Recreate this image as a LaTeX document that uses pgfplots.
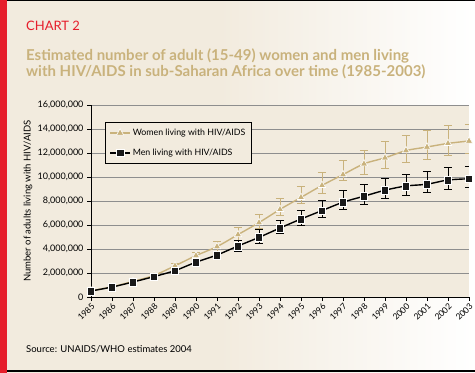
\documentclass[border=0pt]{standalone}
\usepackage{pgfplots}
\pgfplotsset{compat=1.18}
\usepackage{pgfplotstable}
\usepackage{fontspec}
\setmainfont{Lato}
\definecolor{bg}{HTML}{F2EBDE}
\definecolor{tanc}{HTML}{C9B27C}
\definecolor{chartred}{HTML}{E61E2B}
\definecolor{gridgray}{HTML}{8E8E8E}

\pgfplotstableread{
year y ep em
1985 520000 50000 50000
1986 850000 80000 80000
1987 1300000 120000 120000
1988 1800000 150000 150000
1989 2600000 200000 200000
1990 3450000 250000 250000
1991 4200000 400000 400000
1992 5200000 600000 450000
1993 6200000 700000 450000
1994 7300000 900000 500000
1995 8300000 950000 500000
1996 9300000 1100000 650000
1997 10200000 1200000 500000
1998 11100000 1150000 850000
1999 11600000 1350000 900000
2000 12200000 1300000 1000000
2001 12500000 1400000 1000000
2002 12800000 1500000 1000000
2003 13000000 1400000 1000000
}\women

\pgfplotstableread{
year y ep em
1985 500000 50000 50000
1986 830000 70000 70000
1987 1250000 100000 150000
1988 1700000 150000 150000
1989 2200000 250000 200000
1990 2900000 200000 200000
1991 3500000 300000 350000
1992 4250000 500000 450000
1993 4970000 630000 470000
1994 5750000 650000 450000
1995 6500000 750000 500000
1996 7200000 850000 550000
1997 7900000 1000000 600000
1998 8400000 1000000 650000
1999 8900000 1000000 700000
2000 9250000 1000000 800000
2001 9400000 1100000 700000
2002 9750000 1050000 800000
2003 9850000 1050000 750000
}\men

\begin{document}
\begin{tikzpicture}
\useasboundingbox (0pt,0pt) rectangle (475pt,373pt);
\fill[bg] (0pt,0pt) rectangle (220pt,373pt);
\shade[left color=bg, right color=white] (219.5pt,0pt) rectangle (475pt,373pt);
\fill[chartred] (0pt,0pt) rectangle (7pt,373pt);
\draw[line width=1.2pt] (7pt,372.4pt) -- (475pt,372.4pt);
\draw[line width=1.5pt] (7pt,1.8pt) -- (475pt,1.8pt);
\node[anchor=base west, text=chartred, inner sep=0pt, font=\fontsize{13}{15}\selectfont] at (26pt,342pt) {CHART 2};
\node[anchor=base west, text=tanc, inner sep=0pt, font=\bfseries\fontsize{15}{17}\selectfont] at (26pt,312pt) {Estimated number of adult (15-49) women and men living};
\node[anchor=base west, text=tanc, inner sep=0pt, font=\bfseries\fontsize{15}{17}\selectfont] at (26pt,296pt) {with HIV/AIDS in sub-Saharan Africa over time (1985-2003)};
\node[anchor=base west, inner sep=0pt, font=\fontsize{9.5}{11}\selectfont] at (26pt,20pt) {Source: UNAIDS/WHO estimates 2004};

\begin{axis}[
  at={(91pt,76pt)}, anchor=south west,
  width=378pt, height=192pt, scale only axis,
  xmin=1985, xmax=2003, ymin=0, ymax=16000000,
  axis x line*=bottom, axis y line*=left,
  axis line style={line width=0.8pt, -},
  axis background/.style={fill=bg},
  xtick={1985,...,2003},
  ytick={0,2000000,...,16000000},
  scaled y ticks=false,
  /pgf/number format/.cd, fixed, 1000 sep={,}, assume math mode=true,
  /pgfplots/.cd,
  xticklabel={\pgfmathprintnumber[1000 sep={},assume math mode=true]{\tick}},
  tick align=outside, major tick length=4pt,
  tick style={black, line width=0.8pt},
  ymajorgrids, grid style={gridgray, line width=0.8pt},
  ticklabel style={font=\fontsize{9}{10}\selectfont},
  xticklabel style={rotate=45, anchor=north east, inner sep=1pt, font=\fontsize{8.5}{10}\selectfont},
  ylabel={Number of adults living with HIV/AIDS},
  ylabel style={at={(axis description cs:-0.167,0.5)}, anchor=center, font=\fontsize{9.5}{11}\selectfont},
  legend style={at={(axis description cs:0.037,0.911)}, anchor=north west, draw=black, line width=0.8pt, fill=bg,
    font=\fontsize{8.8}{10}\selectfont, row sep=8pt, inner xsep=4pt, inner ysep=4.5pt},
  legend cell align=left,
  legend image code/.code={\draw[mark repeat=2,mark phase=2] plot coordinates {(0pt,0pt) (10pt,0pt) (20pt,0pt)};},
]
\addplot[tanc, line width=1.4pt, smooth, mark=triangle*, mark size=4.2pt,
  mark options={fill=tanc, draw=white, line width=0.6pt},
  error bars/.cd, y dir=both, y explicit,
  error bar style={tanc, line width=0.7pt},
  error mark options={tanc, mark size=4pt, line width=0.7pt, rotate=90}]
  table[x=year, y=y, y error plus=ep, y error minus=em] {\women};
\addlegendentry{Women living with HIV/AIDS}
\addplot[black, line width=1.4pt, smooth, mark=square*, mark size=3.8pt,
  mark options={fill=black!90, draw=white, line width=0.6pt},
  error bars/.cd, y dir=both, y explicit,
  error bar style={black, line width=0.7pt},
  error mark options={black, mark size=4pt, line width=0.7pt, rotate=90}]
  table[x=year, y=y, y error plus=ep, y error minus=em] {\men};
\addlegendentry{Men living with HIV/AIDS}
\end{axis}
\end{tikzpicture}
\end{document}
